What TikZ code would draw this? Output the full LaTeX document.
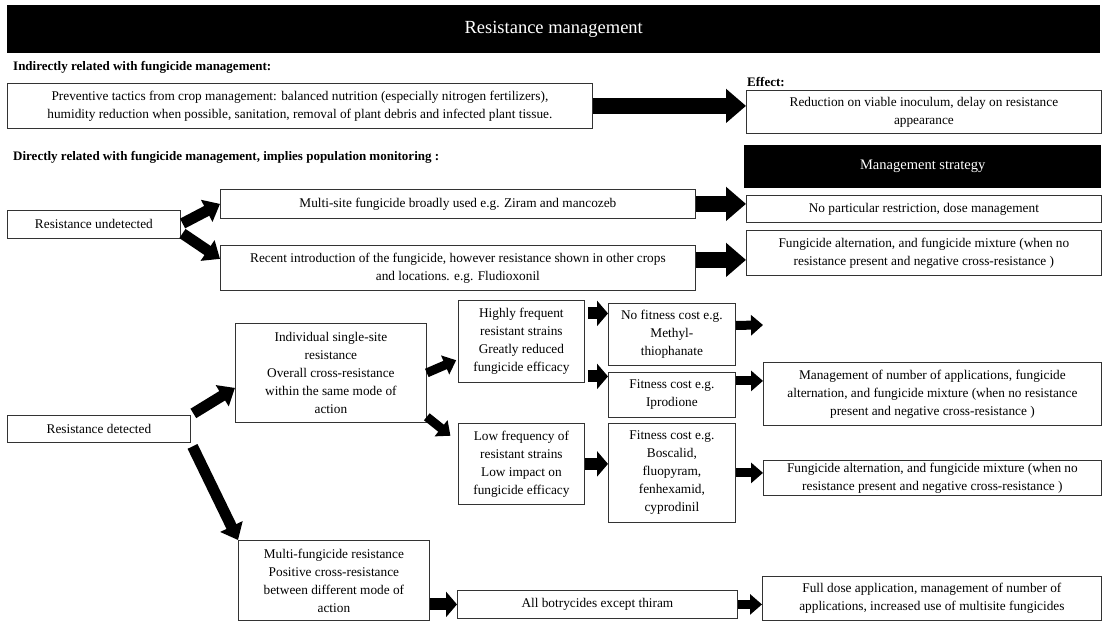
\documentclass[tikz,border=0pt]{standalone}
\usepackage{fontspec}
\usepackage{tikz}
\setmainfont{Liberation Serif}
\usetikzlibrary{arrows.meta}
\usetikzlibrary{positioning}
\tikzset{box/.style = {draw=black!80, line width=0.8pt, anchor=north west,
                       align=center, inner sep=0pt,
                       font=\fontsize{13.3}{18}\selectfont},
         blackbox/.style = {fill=black, text=white, anchor=north west,
                            align=center, inner sep=0pt},
         heading/.style = {anchor=west, inner sep=0pt,
                           font=\fontsize{13}{15}\selectfont\bfseries},
         dims/.style 2 args = {minimum width=#1pt, minimum height=#2pt},
         bigarrow/.style = {line width=16pt, -{Triangle[length=20pt, width=33pt]}},
         midarrow/.style = {line width=11pt, -{Triangle[length=15pt, width=24pt]}},
         stubarrow/.style = {line width=12pt, -{Triangle[length=11pt, width=25pt]}},
         smallarrow/.style = {line width=9pt, -{Triangle[length=12pt, width=20pt]}}}

\begin{document}
\begin{tikzpicture}[x=1pt, y=-1pt]
    \path [use as bounding box, fill=white] (0, 0) rectangle (1105, 621);

    % title and headings
    \node [blackbox, dims={1093}{48}, font=\fontsize{18.5}{22}\selectfont] (title) at (7, 5) {Resistance management};
    \node [heading] (indirect) at (13, 67) {Indirectly related with fungicide management:};
    \node [heading] (effectlabel) at (747, 82) {Effect:};
    \node [heading] (direct) at (13, 157) {Directly related with fungicide management, implies population monitoring :};
    \node [blackbox, dims={357}{43}, font=\fontsize{14.5}{18}\selectfont] (strategy) at (744, 145) {Management strategy};

    % indirect
    \node [box, dims={585}{45}] (prev) at (7, 83) {Preventive tactics from crop management: balanced nutrition (especially nitrogen fertilizers),\\ humidity reduction when possible, sanitation, removal of plant debris and infected plant tissue.};
    \node [box, dims={355}{43}] (effect) at (746, 90) {Reduction on viable inoculum, delay on resistance\\ appearance};
    \draw [bigarrow] (prev.east) -- (prev.east -| effect.west);

    % resistance undetected
    \node [box, dims={173}{28}] (undet) at (7, 210) {Resistance undetected};
    \node [box, dims={475}{29}] (multisite) at (220, 189) {Multi-site fungicide broadly used e.g. Ziram and mancozeb};
    \node [box, dims={475}{45}] (recent) at (220, 245) {Recent introduction of the fungicide, however resistance shown in other crops\\ and locations. e.g. Fludioxonil};
    \node [box, dims={355}{27}] (nopart) at (746, 195) {No particular restriction, dose management};
    \node [box, dims={355}{45}] (alt1) at (746, 230) {Fungicide alternation, and fungicide mixture (when no\\ resistance present and negative cross-resistance )};
    \draw [midarrow, shorten <=2pt] (undet.east) -- (multisite.west);
    \draw [midarrow, shorten <=2pt] ([yshift=-8pt]undet.east) -- ([yshift=9pt]recent.west);
    \draw [bigarrow] (multisite.east) -- (multisite.east -| nopart.west);
    \draw [bigarrow] ([yshift=-7pt]alt1.west -| recent.east) -- ([yshift=-7pt]alt1.west);

    % resistance detected
    \node [box, dims={183}{27}] (detected) at (7, 415) {Resistance detected};
    \node [box, dims={191}{99}] (indiv) at (235, 323) {Individual single-site\\ resistance\\ Overall cross-resistance\\ within the same mode of\\ action};
    \node [box, dims={126}{82}] (highly) at (458, 300) {Highly frequent\\ resistant strains\\ Greatly reduced\\ fungicide efficacy};
    \node [box, dims={126}{81}] (low) at (458, 423) {Low frequency of\\ resistant strains\\ Low impact on\\ fungicide efficacy};
    \node [box, dims={127}{62}] (nofit) at (608, 303) {No fitness cost e.g.\\ Methyl-\\ thiophanate};
    \node [box, dims={127}{45}] (iprod) at (608, 372) {Fitness cost e.g.\\ Iprodione};
    \node [box, dims={127}{99}] (bosc) at (608, 423) {Fitness cost e.g.\\ Boscalid,\\ fluopyram,\\ fenhexamid,\\ cyprodinil};
    \node [box, dims={338}{63}] (mgmt) at (763, 362) {Management of number of applications, fungicide\\ alternation, and fungicide mixture (when no resistance\\ present and negative cross-resistance )};
    \node [box, dims={338}{35}] (alt2) at (763, 460) {Fungicide alternation, and fungicide mixture (when no\\ resistance present and negative cross-resistance )};
    \coordinate (nofitend) at (763, 325);
    \node [box, dims={191}{80}] (multi) at (238, 540) {Multi-fungicide resistance\\ Positive cross-resistance\\ between different mode of\\ action};
    \node [box, dims={280}{28}] (allbot) at (457, 590) {All botrycides except thiram};
    \node [box, dims={339}{44}] (fulldose) at (762, 576) {Full dose application, management of number of\\ applications, increased use of multisite fungicides};

    \draw [midarrow, shorten <=3pt] (detected.north east) -- ([yshift=-15pt]indiv.west);
    \draw [midarrow, shorten <=4pt] (detected.south east) -- (multi.north west);
    \draw [smallarrow, shorten >=2pt] (indiv.east) -- ([yshift=-18pt]highly.west);
    \draw [smallarrow, shorten >=2pt] ([yshift=6pt]indiv.south east) -- ([xshift=-6pt, yshift=-14pt]low.north west);
    \draw [stubarrow, shorten <=3pt] ([yshift=28pt]highly.east) -- ([yshift=21pt]nofit.west);
    \draw [stubarrow, shorten <=3pt] ([yshift=-35pt]highly.east) -- ([yshift=18.5pt]iprod.west);
    \draw [stubarrow] (low.east) -- (low.east -| bosc.west);
    \draw [smallarrow] ([yshift=9pt]nofit.east) -- (nofitend);
    \draw [smallarrow] ([yshift=14pt]iprod.east) -- ([yshift=14pt]iprod.east -| mgmt.west);
    \draw [smallarrow] (bosc.east) -- (bosc.east -| alt2.west);
    \draw [stubarrow] (allbot.west -| multi.east) -- (allbot.west);
    \draw [smallarrow] (allbot.east) -- (allbot.east -| fulldose.west);
\end{tikzpicture}
\end{document}
